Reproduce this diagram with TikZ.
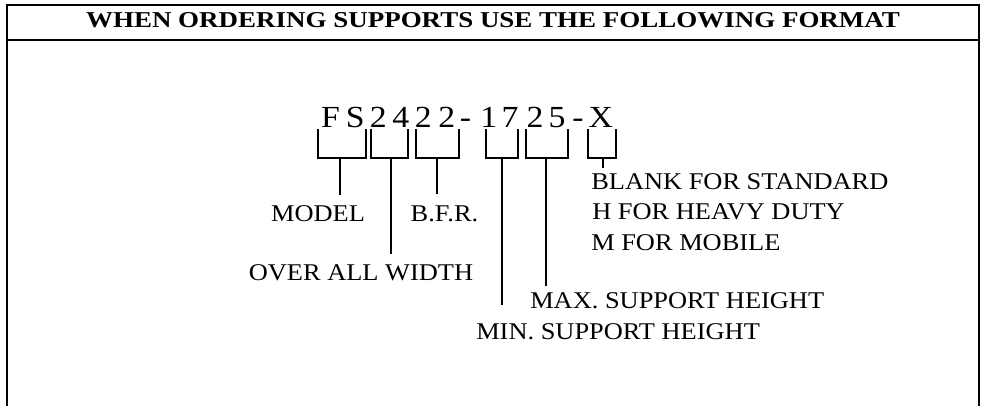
\documentclass[tikz,border=0pt]{standalone}
\usepackage{fontspec}
\setmainfont{Liberation Serif}
\newfontfamily\labfont{Liberation Serif}[FakeStretch=1.1]
\newfontfamily\headfont{Liberation Serif}[FakeStretch=1.19]
\usetikzlibrary{calc}
\begin{document}
\begin{tikzpicture}[x=0.75pt,y=-0.75pt,
  frameline/.style={line width=1.8pt},
  bracketline/.style={line width=1.4pt},
  lab/.style={inner sep=0pt,font=\labfont\fontsize{18}{20}\selectfont},
  codechar/.style={inner sep=0pt,anchor=base,font=\labfont\fontsize{23}{24}\selectfont},
  headtxt/.style={inner sep=0pt,anchor=base,font=\headfont\bfseries\fontsize{17}{19}\selectfont}]
\useasboundingbox (0,0) rectangle (981,406);
% frame
\draw[frameline] (7,406) -- (7,5) -- (979,5) -- (979,406);
\draw[frameline] (7,40) -- (979,40);
\node[headtxt] (head) at (493,27.5) {WHEN ORDERING SUPPORTS USE THE FOLLOWING FORMAT};
% code characters
\node[codechar] (c1) at (330.5,128) {F};
\node[codechar] (c2) at (355.3,128) {S};
\node[codechar] (c3) at (378.3,128) {2};
\node[codechar] (c4) at (400.8,128) {4};
\node[codechar] (c5) at (423.3,128) {2};
\node[codechar] (c6) at (446.7,128) {2};
\node[codechar] (c7) at (465.5,128) {-};
\node[codechar] (c8) at (488.7,128) {1};
\node[codechar] (c9) at (510,128) {7};
\node[codechar] (c10) at (535,128) {2};
\node[codechar] (c11) at (557,128) {5};
\node[codechar] (c12) at (578,128) {-};
\node[codechar] (c13) at (600.8,128) {X};
% brackets
\draw[bracketline] (318,129) -- (318,158) -- (366,158) -- (366,129);
\draw[bracketline] (371,129) -- (371,158) -- (408,158) -- (408,129);
\draw[bracketline] (416,129) -- (416,158) -- (459,158) -- (459,129);
\draw[bracketline] (486,129) -- (486,158) -- (518,158) -- (518,129);
\draw[bracketline] (526,129) -- (526,158) -- (568,158) -- (568,129);
\draw[bracketline] (588,129) -- (588,158) -- (616,158) -- (616,129);
\coordinate (m1) at (340,158);
\coordinate (m2) at (391,158);
\coordinate (m3) at (437,158);
\coordinate (m4) at (502,158);
\coordinate (m5) at (546,158);
\coordinate (m6) at (603,158);
% labels
\node[lab,anchor=base] (model) at (318,221) {MODEL};
\node[lab,anchor=base] (bfr) at (444.5,221) {B.F.R.};
\node[lab,anchor=base] (width) at (361,280) {OVER ALL WIDTH};
\node[lab,anchor=base west] (blank) at (591,190) {BLANK FOR STANDARD};
\node[lab,anchor=base west] (heavy) at (592,219.5) {H FOR HEAVY DUTY};
\node[lab,anchor=base west] (mobile) at (591,250) {M FOR MOBILE};
\node[lab,anchor=base west] (maxh) at (530,308) {MAX. SUPPORT HEIGHT};
\node[lab,anchor=base west] (minh) at (476,339) {MIN. SUPPORT HEIGHT};
% stems
\draw[bracketline,shorten >=7.5pt] (m1) -- (m1 |- model.north);
\draw[bracketline,shorten >=7.5pt] (m2) -- (m2 |- width.north);
\draw[bracketline,shorten >=8pt] (m3) -- (m3 |- bfr.north);
\draw[bracketline,shorten >=13.5pt] (m4) -- (m4 |- minh.north);
\draw[bracketline,shorten >=4.5pt] (m5) -- (m5 |- maxh.north);
\draw[bracketline,shorten >=4.5pt] (m6) -- (m6 |- blank.north);
\end{tikzpicture}
\end{document}
